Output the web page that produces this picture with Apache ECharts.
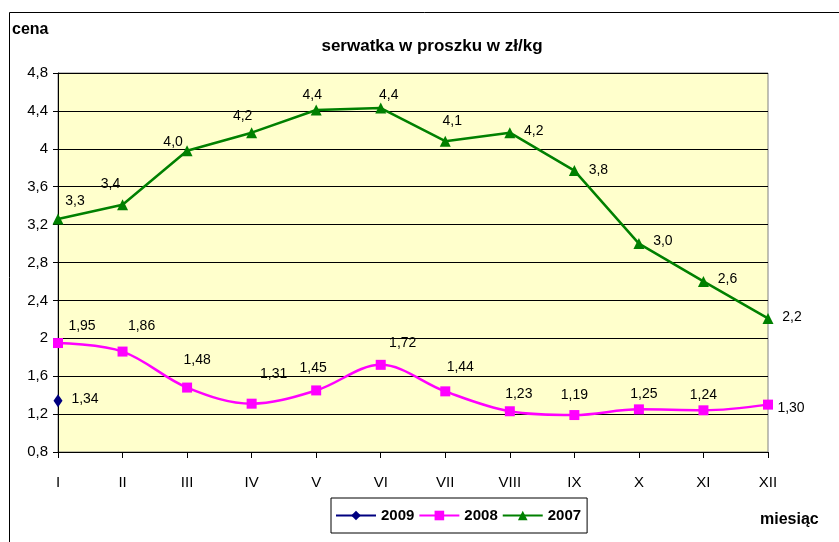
<!DOCTYPE html>
<html>
<head>
<meta charset="utf-8">
<script src="https://cdn.jsdelivr.net/npm/echarts@6/dist/echarts.min.js"></script>
<style>
  html, body { margin: 0; padding: 0; background: #fff; }
  #main { width: 839px; height: 542px; }
</style>
</head>
<body>
<div id="main"></div>
<script>
// miesiące
var months = ['I', 'II', 'III', 'IV', 'V', 'VI', 'VII', 'VIII', 'IX', 'X', 'XI', 'XII'];
// ceny zł/kg
var y2009 = [1.34, null, null, null, null, null, null, null, null, null, null, null];
var y2008 = [1.95, 1.86, 1.48, 1.31, 1.45, 1.72, 1.44, 1.23, 1.19, 1.25, 1.24, 1.30];
var y2007 = [3.26, 3.41, 3.98, 4.17, 4.41, 4.43, 4.08, 4.17, 3.77, 3.0, 2.6, 2.21];
var yTicks = [0.8, 1.2, 1.6, 2, 2.4, 2.8, 3.2, 3.6, 4, 4.4, 4.8];

// przesunięcia etykiet (px) względem punktu
var off2009 = [[27, -2]];
var off2008 = [[24, -17], [19, -25], [10, -27], [22, -30], [-3, -22], [22, -22],
  [15, -24], [9, -17], [0, -20], [5, -15], [0, -15], [23, 4]];
var off2007 = [[17, -18], [-12, -21], [-14, -9], [-9, -17], [-4, -15], [8, -13],
  [7, -20], [24, -2], [24, 0], [24, -2], [24, -2], [24, -1]];

var font = "'Liberation Sans', Arial, sans-serif";

function comma(v, d) {
  return v.toFixed(d).replace('.', ',');
}

function buildData(vals, offs, dec) {
  var out = [];
  vals.forEach(function (v, i) {
    if (v == null) {
      out.push(null);
      return;
    }
    var o = offs[i] || [0, -14];
    out.push({
      value: v,
      label: {
        show: true,
        position: 'inside',
        offset: o,
        formatter: comma(v, dec)
      }
    });
  });
  return out;
}

var labelStyle = {
  color: '#000',
  fontSize: 14,
  fontFamily: font
};

var chart = echarts.init(document.getElementById('main'), null, { renderer: 'canvas' });

var option = {
  backgroundColor: '#fff',
  animation: false,
  title: {
    text: 'serwatka w proszku w zł/kg',
    left: 427,
    top: 33,
    textAlign: 'center',
    textStyle: { fontSize: 17, fontWeight: 'bold', fontFamily: font, color: '#000' }
  },
  graphic: [
    {
      type: 'rect',
      shape: { x: 9.5, y: 12.5, width: 900, height: 600 },
      style: { fill: null, stroke: '#000', lineWidth: 1 },
      z: 0
    },
    {
      type: 'text',
      left: 12,
      top: 22,
      style: { text: 'cena', fontSize: 16, fontWeight: 'bold', fontFamily: font, fill: '#000' }
    },
    {
      type: 'text',
      left: 760,
      top: 512,
      style: { text: 'miesiąc', fontSize: 16, fontWeight: 'bold', fontFamily: font, fill: '#000' }
    }
  ],
  legend: {
    data: ['2009', '2008', '2007'],
    left: 331,
    top: 498,
    padding: [10, 6, 10, 4],
    itemGap: 4,
    itemWidth: 40,
    itemHeight: 12,
    borderColor: '#000',
    borderWidth: 1,
    textStyle: { fontSize: 15, fontWeight: 'bold', fontFamily: font, color: '#000' }
  },
  grid: {
    left: 58,
    right: 71,
    top: 73,
    bottom: 90,
    show: true,
    backgroundColor: '#FFFFCC',
    borderColor: '#808080',
    borderWidth: 1
  },
  xAxis: {
    type: 'category',
    data: months,
    boundaryGap: false,
    axisLine: { lineStyle: { color: '#000', width: 1 } },
    axisTick: { show: true, alignWithLabel: true, length: 6, lineStyle: { color: '#000' } },
    axisLabel: { color: '#000', fontSize: 15, fontFamily: font, margin: 23 }
  },
  yAxis: {
    type: 'value',
    min: yTicks[0],
    max: yTicks[yTicks.length - 1],
    interval: 0.4,
    axisLine: { show: true, lineStyle: { color: '#000', width: 1 } },
    axisTick: { show: true, length: 5, lineStyle: { color: '#000' } },
    axisLabel: {
      color: '#000',
      fontSize: 15,
      fontFamily: font,
      margin: 10,
      formatter: function (v) {
        return String(+v.toFixed(1)).replace('.', ',');
      }
    },
    splitLine: { show: true, lineStyle: { color: '#000', width: 1 } }
  },
  series: [
    {
      name: '2009',
      type: 'line',
      data: buildData(y2009, off2009, 2),
      symbol: 'diamond',
      symbolSize: [9, 13],
      itemStyle: { color: '#000080' },
      lineStyle: { color: '#000080', width: 2.5 },
      label: labelStyle,
      z: 4
    },
    {
      name: '2008',
      type: 'line',
      data: buildData(y2008, off2008, 2),
      smooth: 0.35,
      symbol: 'rect',
      symbolSize: 10,
      itemStyle: { color: '#FF00FF' },
      lineStyle: { color: '#FF00FF', width: 2.5 },
      label: labelStyle,
      z: 3
    },
    {
      name: '2007',
      type: 'line',
      data: buildData(y2007, off2007, 1),
      symbol: 'triangle',
      symbolSize: 11,
      itemStyle: { color: '#008000' },
      lineStyle: { color: '#008000', width: 2.5 },
      label: labelStyle,
      z: 3
    }
  ]
};

chart.setOption(option);
</script>
</body>
</html>
